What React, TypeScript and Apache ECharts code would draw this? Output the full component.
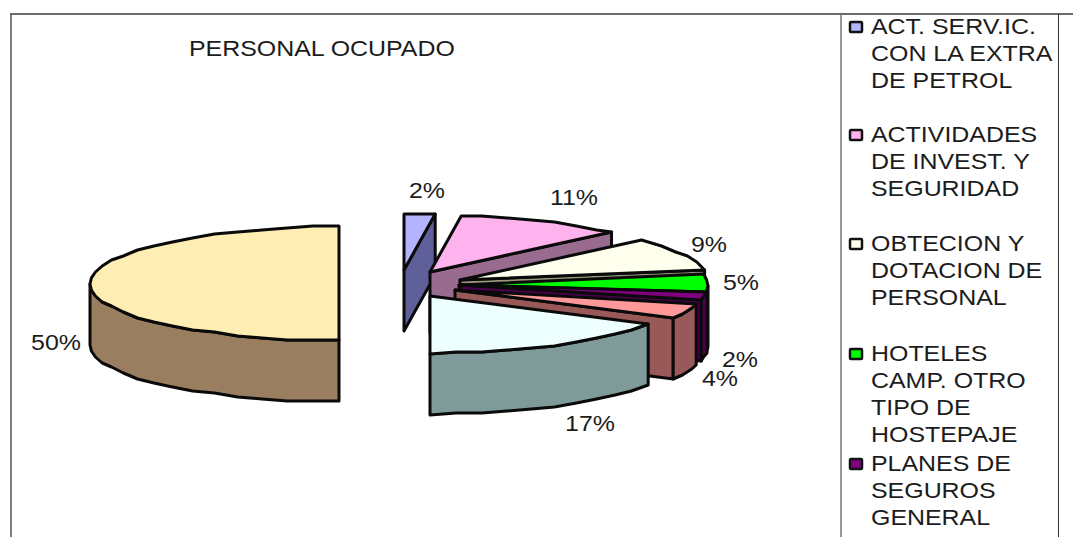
import React, { useEffect, useRef } from "react";
import * as echarts from "echarts";

const chartTitle = "PERSONAL OCUPADO";
const shares = [2, 11, 9, 5, 2, 4, 17, 50];
const topColors = ["#B3B3FF", "#FFB3EE", "#FFFFEE", "#00FF00", "#800080", "#FF9999", "#EEFFFF", "#FFEEB3"];
const sideColors = ["#5F5F99", "#996B8F", "#99997F", "#009900", "#4D004D", "#995959", "#7F9B99", "#997E60"];
const legendLabels = [
  ["ACT. SERV.IC.", "CON LA EXTRA", "DE PETROL"],
  ["ACTIVIDADES", "DE INVEST. Y", "SEGURIDAD"],
  ["OBTECION Y", "DOTACION DE", "PERSONAL"],
  ["HOTELES", "CAMP. OTRO", "TIPO DE", "HOSTEPAJE"],
  ["PLANES DE", "SEGUROS", "GENERAL"],
];

// Layout of the exploded pie (apex of every slice, label anchors, legend rows)
const apexes = [[404, 270], [430, 272], [460, 280], [459, 285], [460, 285], [455, 290], [430, 296], [339, 283.5]];
const labelAnchors = [[427, 191], [574, 198], [709, 245], [741, 283], [740, 360], [720, 379], [590, 424], [56, 343]];
const legendRowY = [27, 135, 244, 354, 464];
const RX = 249, RY = 57, DEPTH = 61, SNAP = 2, STEP = 6, LINE_H = 27;
const FONT = "Liberation Sans", FONT_SIZE = 21.5, STRETCH = 1.16;
const INK = "#1c1c1c";

const snapY = (y: number) => Math.round(y / SNAP) * SNAP;
const point = (a: number, c: number[]) => {
  const t = (a * Math.PI) / 180;
  return [c[0] + RX * Math.sin(t), snapY(c[1] - RY * Math.cos(t))];
};
const arc = (a0: number, a1: number, c: number[]) => {
  const list = [a0];
  for (let a = (Math.floor(a0 / STEP) + 1) * STEP; a < a1 - 2; a += STEP) if (a > a0 + 2) list.push(a);
  list.push(a1);
  return list.map((a) => point(a, c));
};
const down = (p: number[]) => [p[0], p[1] + DEPTH];

const renderSlice = (params: any, api: any) => {
  const i = params.dataIndex;
  const share = api.value(0);
  const before = shares.slice(0, i).reduce((s, v) => s + v, 0);
  const a0 = (before / 100) * 360;
  const a1 = ((before + share) / 100) * 360;
  const c = apexes[i];
  const stroke = { stroke: "#0a0a0a", lineWidth: 3, lineJoin: "round" };
  const children: any[] = [];
  if (a1 < 180) {
    const e = point(a1, c);
    children.push({
      type: "polygon",
      shape: { points: [c, e, down(e), down(c)] },
      style: { fill: sideColors[i], ...stroke },
    });
  }
  const w0 = Math.max(a0, 90), w1 = Math.min(a1, 270);
  if (w1 > w0) {
    const top = arc(w0, w1, c);
    children.push({
      type: "polygon",
      shape: { points: [...top, ...top.map(down).reverse()] },
      style: { fill: sideColors[i], ...stroke },
    });
  }
  children.push({
    type: "polygon",
    shape: { points: [c, ...arc(a0, a1, c)] },
    style: { fill: topColors[i], ...stroke },
  });
  children.push({
    type: "text",
    x: labelAnchors[i][0],
    y: labelAnchors[i][1],
    scaleX: STRETCH,
    z2: 50,
    style: {
      text: `${share}%`,
      fill: INK,
      font: `${FONT_SIZE}px "${FONT}"`,
      align: "center",
      verticalAlign: "middle",
    },
  });
  return { type: "group", children };
};

const textEl = (text: string, x: number, y: number) => ({
  type: "text",
  x,
  y,
  scaleX: STRETCH,
  silent: true,
  style: { text, fill: INK, font: `${FONT_SIZE}px "${FONT}"`, align: "left", verticalAlign: "middle" },
});
const lineEl = (x1: number, y1: number, x2: number, y2: number, color: string, w: number) => ({
  type: "line",
  silent: true,
  shape: { x1, y1, x2, y2 },
  style: { stroke: color, lineWidth: w },
});

const buildGraphic = () => {
  const els: any[] = [
    lineEl(10, 14, 1073, 14, "#3a3a3a", 1.5),
    lineEl(11, 14, 11, 537, "#555555", 1.5),
    lineEl(841, 14, 841, 537, "#777777", 1.5),
    lineEl(1058.5, 14, 1058.5, 537, "#333333", 1),
    textEl(chartTitle, 189, 49),
  ];
  legendLabels.forEach((lines, k) => {
    els.push({
      type: "rect",
      silent: true,
      shape: { x: 850, y: legendRowY[k] - 5, width: 12, height: 10, r: 1 },
      style: { fill: topColors[k], stroke: "#111111", lineWidth: 2.5 },
    });
    lines.forEach((ln, j) => els.push(textEl(ln, 871, legendRowY[k] + j * LINE_H)));
  });
  return els;
};

export default function App() {
  const ref = useRef<HTMLDivElement>(null);
  useEffect(() => {
    document.body.style.margin = "0";
    const chart = echarts.init(ref.current!, null, { renderer: "svg" });
    chart.setOption({
      animation: false,
      backgroundColor: "#ffffff",
      graphic: { elements: buildGraphic() },
      series: [
        {
          type: "custom",
          coordinateSystem: "none",
          clip: false,
          silent: true,
          data: shares.map((v) => [v]),
          renderItem: renderSlice,
        },
      ],
    });
    return () => chart.dispose();
  }, []);
  return <div ref={ref} style={{ width: 1073, height: 537 }} />;
}
